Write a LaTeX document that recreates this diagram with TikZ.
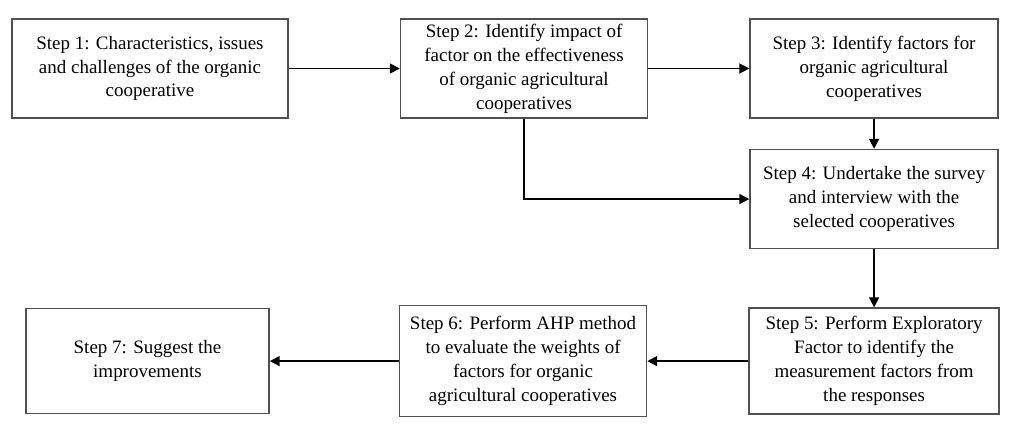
\documentclass[tikz,border=0pt]{standalone}
\usepackage{fontspec}
\setmainfont{Liberation Serif}
\usepackage{tikz}
\usetikzlibrary{arrows.meta, positioning}
\usepackage{xcolor}
\definecolor{stepline}{RGB}{80,80,80}

\begin{document}
\begin{tikzpicture}[
  stepbox/.style={draw=stepline, fill=white, line width=1.1pt, align=center,
                  minimum width=6.2cm, minimum height=2.475cm,
                  font=\fontsize{13.5}{17}\selectfont, inner sep=2pt},
  arr/.style={-{Triangle[length=7pt,width=7pt]}, line width=1.2pt, black},
  node distance=2.5cm,
]
  \useasboundingbox (0,0) rectangle (25.3,-10.725);

  \node[stepbox, minimum width=6.9cm] (s1) at (3.75,-1.7125)
    {Step 1: Characteristics, issues\\and challenges of the organic\\cooperative};
  \node[stepbox, minimum width=6.175cm, right=2.775cm of s1] (s2)
    {Step 2: Identify impact of\\factor on the effectiveness\\of organic agricultural\\cooperatives};
  \node[stepbox, right=2.525cm of s2] (s3)
    {Step 3: Identify factors for\\organic agricultural\\cooperatives};
  \node[stepbox, below=0.75cm of s3] (s4)
    {Step 4: Undertake the survey\\and interview with the\\selected cooperatives};
  \node[stepbox, minimum width=6.25cm, minimum height=2.65cm, below=1.45cm of s4] (s5)
    {Step 5: Perform Exploratory\\Factor to identify the\\measurement factors from\\the responses};
  \node[stepbox, minimum width=6.175cm, minimum height=2.775cm, left=2.525cm of s5] (s6)
    {Step 6: Perform AHP method\\to evaluate the weights of\\factors for organic\\agricultural cooperatives};
  \node[stepbox, minimum width=6.075cm, minimum height=2.625cm, left=3.225cm of s6] (s7)
    {Step 7: Suggest the\\improvements};

  \draw[arr] (s1) -- (s2);
  \draw[arr] (s2) -- (s3);
  \draw[arr] (s3) -- (s4);
  \draw[arr] (s2.south) |- (s4.west);
  \draw[arr] (s4) -- (s5);
  \draw[arr] (s5) -- (s6);
  \draw[arr] (s6) -- (s7);
\end{tikzpicture}
\end{document}
